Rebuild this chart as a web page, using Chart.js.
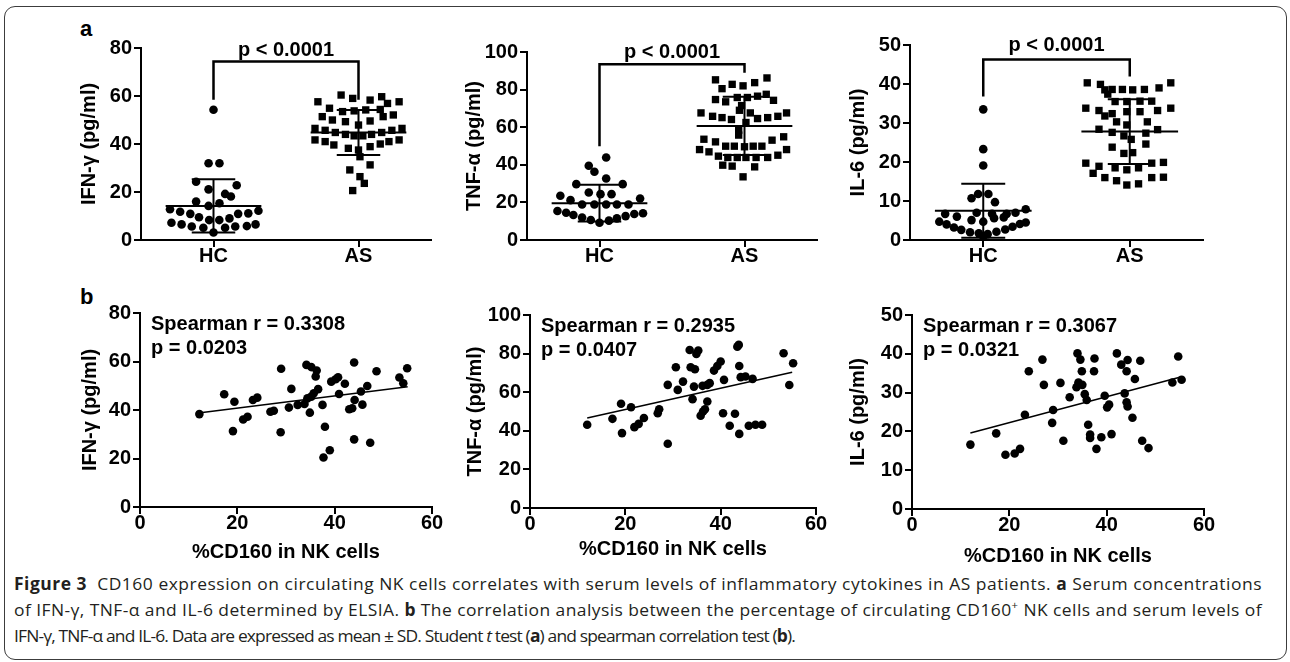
<!DOCTYPE html>
<html>
<head>
<meta charset="utf-8">
<script src="https://cdn.jsdelivr.net/npm/chart.js@4.4.1/dist/chart.umd.min.js"></script>
<style>
  body { margin:0; background:#fff; width:1290px; height:662px; position:relative; overflow:hidden;
         font-family:'Liberation Sans', Arial, sans-serif; }
  #frame { position:absolute; left:4px; top:6px; width:1283px; height:654px; box-sizing:border-box;
           border:1.5px solid #3c3c3c; border-radius:11px; }
  canvas { position:absolute; }
  .lab { position:absolute; left:80px; font:bold 22px/22px 'Liberation Sans', Arial, sans-serif; color:#000; }
  .cap { position:absolute; left:14px; white-space:nowrap; transform-origin:0 50%;
         font:17px/20px 'Open Sans', 'Noto Sans', sans-serif; color:#231f20; }
  .cap b { font-weight:700; }
</style>
</head>
<body>
<div id="frame"></div>
<div class="lab" style="top:18px">a</div>
<div class="lab" style="top:286px">b</div>

<div class="cap" style="top:574px" data-w="1248"><b>Figure 3</b>&nbsp; CD160 expression on circulating NK cells correlates with serum levels of inflammatory cytokines in AS patients. <b>a</b> Serum concentrations</div>
<div class="cap" style="top:600px" data-w="1248">of IFN-γ, TNF-α and IL-6 determined by ELSIA. <b>b</b> The correlation analysis between the percentage of circulating CD160<sup style="font-size:11px;line-height:0">+</sup> NK cells and serum levels of</div>
<div class="cap" style="top:626px" data-w="781">IFN-γ, TNF-α and IL-6. Data are expressed as mean ± SD. Student <i>t</i> test (<b>a</b>) and spearman correlation test (<b>b</b>).</div>

<script>
'use strict';

// groups on the dot plots
const groups = ['HC', 'AS'];

// panel a : [offset from group tick, value]
const ifnHC = [[0,54.3],[-0.034,32.0],[0.041,32.0],[-0.12,24.3],[0.16,22.8],[-0.034,21.1],[0.08,19.2],[0.12,18.1],
  [-0.12,16.0],[0.041,15.3],[-0.034,14.2],[-0.30,12.8],[-0.23,11.8],[0.31,12.2],[0.24,11.1],[0.17,10.9],[-0.16,10.9],
  [-0.10,9.5],[-0.03,8.3],[0.04,8.3],[0.11,9.0],[-0.29,7.2],[-0.22,6.5],[0.29,6.5],[0.23,5.8],[-0.15,5.6],[-0.07,5.1],
  [0.08,5.1],[0.15,5.6],[0,3.1]];
const ifnAS = [[-0.12,60.4],[-0.04,59.0],[-0.28,57.6],[0.08,58.3],[0.16,59.7],[0.20,56.9],[0.28,57.6],
  [-0.20,54.9],[-0.11,53.5],[-0.03,53.8],[0.05,54.2],[0.15,54.4],[0.24,52.1],
  [-0.25,51.4],[-0.18,50.0],[-0.09,49.3],[0,47.9],[0.08,49.6],[0.17,51.4],
  [-0.30,46.5],[-0.23,45.7],[-0.16,44.8],[-0.09,44.0],[-0.03,43.4],[0.03,43.4],[0.09,44.0],[0.16,44.8],[0.23,45.7],[0.30,46.5],
  [-0.30,41.7],[-0.23,41.0],[-0.17,39.6],[-0.07,38.2],[0,37.5],[0.08,38.9],[0.15,40.0],[0.21,41.0],[0.28,41.7],
  [0.01,34.7],[0.08,31.3],[-0.06,29.2],[0.01,26.4],[0.04,23.6],[-0.04,20.6]];

const tnfHC = [[0.046,43.9],[-0.074,39.5],[-0.035,36.3],[0.046,32.7],[-0.16,29.7],[0.16,29.7],[-0.074,25.3],[0.007,24.4],
  [0.083,24.4],[-0.27,23.5],[-0.20,21.2],[0.28,22.1],[-0.12,18.9],[-0.035,18.9],[0.046,18.9],[0.12,18.9],[0.20,18.9],
  [-0.29,15.4],[-0.23,14.5],[-0.18,13.3],[-0.12,12.0],[-0.06,10.6],[0,9.2],[0.065,10.3],[0.12,11.5],[0.18,12.7],
  [0.24,13.8],[0.30,14.2]];
const tnfAS = [[-0.20,85.2],[-0.155,80.5],[-0.085,82.8],[-0.01,82.0],[0.07,83.7],[0.155,86.2],
  [-0.20,74.7],[-0.13,73.5],[-0.05,75.8],[0.02,75.8],[0.09,76.5],[0.15,77.5],[0.20,74.3],
  [-0.02,71.5],[-0.035,69.0],
  [-0.30,67.6],[-0.22,65.8],[-0.155,65.1],[-0.09,64.1],[0.04,67.6],[0.09,64.6],[0.16,65.1],[0.23,65.8],[0.29,67.6],
  [0.01,62.5],[-0.04,58.4],[-0.04,55.8],
  [-0.28,53.6],[-0.20,52.2],[-0.13,49.9],[-0.07,49.9],[0,49.6],[0.06,49.9],[0.12,49.9],[0.19,53.1],[0.27,54.9],
  [-0.31,48.1],[-0.245,46.9],[-0.18,44.6],[-0.115,43.9],[-0.05,43.9],[0.01,43.9],[0.08,43.9],[0.16,43.9],[0.23,45.1],[0.29,48.1],
  [-0.15,39.8],[-0.085,39.3],[0.07,38.9],[-0.01,33.6]];

const il6HC = [[0,33.5],[0,23.3],[0,19.1],[-0.08,10.7],[-0.035,11.8],[0.035,11.8],[0.08,9.7],
  [-0.26,6.7],[-0.18,6.0],[-0.045,7.0],[0.06,6.7],[0.16,6.7],[0.22,7.0],[0.29,7.9],
  [-0.08,5.1],[0,4.7],[0.074,5.6],[0.14,5.8],
  [-0.30,4.7],[-0.25,4.0],[-0.20,3.2],[-0.15,2.6],[-0.09,2.0],[-0.03,1.7],[0.03,1.5],[0.09,2.1],[0.15,2.7],
  [0.20,3.4],[0.25,4.1],[0.29,4.5],[0,0.9]];
const il6AS = [[-0.29,40.3],[-0.20,39.9],[-0.17,38.5],[-0.12,38.6],[-0.05,38.6],[0.02,38.5],[0.10,38.6],[0.20,39.0],[0.28,40.3],
  [-0.15,37.4],[-0.10,35.5],[-0.02,35.5],[0.07,35.6],[0.15,35.6],
  [-0.30,33.8],[-0.21,33.2],[-0.17,31.8],[-0.12,32.4],[-0.02,32.9],[0.07,32.9],[0.19,33.2],[0.28,33.8],
  [-0.09,30.3],[0.12,30.3],[-0.02,29.5],
  [-0.21,28.4],[-0.12,27.6],[-0.04,26.7],[0.11,27.4],[0.19,28.3],[0.01,25.8],
  [-0.12,23.8],[0.11,24.6],[-0.04,22.2],[0.02,22.4],
  [-0.30,19.7],[-0.21,18.9],[-0.25,17.1],[-0.17,16.0],[-0.10,18.5],[-0.02,18.0],[0.06,18.5],[0.15,19.7],[0.23,19.9],
  [-0.09,15.2],[-0.02,14.1],[0.06,14.4],[0.15,16.0],[0.23,16.1]];

// [mean, sd] for HC, AS
const ifnStats = [[14.2, 11.1], [44.8, 9.4]];
const tnfStats = [[19.6, 9.8], [60.7, 15.5]];
const il6Stats = [[7.5, 6.9], [27.8, 8.3]];

// significance bracket: [HC foot, top, AS foot]
const ifnBracket = [58.4, 74.4, 58.4];
const tnfBracket = [49.9, 93.5, 89.0];
const il6Bracket = [36.8, 46.3, 41.9];
const pText = 'p < 0.0001';

// panel b : [%CD160 in NK cells, cytokine]
const cdIfn = [[12.2,38.3],[17.3,46.5],[19.4,43.4],[19.1,31.3],[21.2,36.1],[22.1,37.2],[23.2,44.1],[24.1,45.1],
  [26.8,39.3],[27.5,39.7],[29.0,57.0],[28.9,30.8],[30.6,41.0],[31.1,48.7],[32.4,42.1],[33.8,42.5],[34.2,58.6],
  [35.2,57.7],[36.3,56.3],[36.1,53.8],[34.4,44.8],[35.2,45.5],[35.7,46.9],[36.6,48.6],[34.9,38.9],[37.5,42.1],
  [38.0,33.1],[37.7,20.4],[39.0,23.4],[39.3,51.7],[40.2,52.7],[40.7,53.5],[40.9,46.6],[42.1,50.8],[43.0,40.3],
  [43.6,40.7],[44.0,59.6],[44.1,44.1],[44.0,27.9],[45.4,47.6],[45.7,42.2],[46.7,49.9],[47.3,26.5],[48.6,56.0],
  [53.3,53.4],[54.1,51.0],[54.9,57.2]];
const cdTnf = [[12.0,43.1],[17.3,46.2],[19.1,54.0],[19.3,38.8],[21.2,52.2],[21.9,41.9],[22.8,43.6],[23.9,46.6],
  [26.8,49.1],[27.1,51.2],[28.9,63.8],[28.9,33.3],[30.6,72.9],[31.0,61.2],[32.1,65.5],[33.5,81.9],[33.7,72.9],
  [34.6,71.9],[34.9,79.8],[35.3,81.6],[34.4,62.9],[34.1,56.4],[36.2,63.3],[37.2,63.8],[37.7,64.7],[35.8,47.8],
  [36.3,50.0],[36.7,51.2],[37.2,55.2],[38.6,71.2],[39.3,73.6],[40.0,75.9],[40.7,66.4],[40.5,49.1],[41.9,42.6],
  [43.0,48.8],[43.5,83.6],[43.8,84.5],[43.9,73.6],[44.2,67.8],[45.2,68.1],[43.9,38.4],[46.7,66.9],[45.9,42.6],
  [47.3,43.1],[48.7,43.1],[53.2,80.2],[55.2,75.0],[54.4,63.7]];
const cdIl6 = [[12.0,16.6],[17.3,19.5],[19.2,14.0],[21.1,14.3],[22.2,15.5],[23.2,24.3],[24.0,35.5],[26.8,38.5],
  [27.1,32.0],[29.0,25.5],[28.8,22.2],[30.5,32.5],[31.1,17.6],[32.4,28.8],[34.0,40.1],[34.6,38.5],[33.8,31.4],
  [34.2,32.6],[35.0,32.0],[34.9,35.5],[35.5,29.6],[35.9,28.1],[36.2,21.7],[36.6,19.2],[36.6,18.3],[37.5,38.8],
  [37.4,35.5],[37.9,15.5],[38.9,18.5],[39.6,29.2],[40.1,26.2],[40.5,26.9],[41.0,19.3],[42.1,40.1],[43.0,37.2],
  [43.7,29.8],[44.1,35.5],[44.3,38.4],[44.1,27.5],[44.3,26.4],[45.3,23.5],[45.8,33.5],[46.9,38.2],[47.3,17.6],
  [48.6,15.7],[53.5,32.6],[54.7,39.3],[55.4,33.3]];

// regression line end points
const ifnFit = [[12, 38.8], [55, 49.6]];
const tnfFit = [[12, 46.6], [55, 70.3]];
const il6Fit = [[12, 19.6], [55.4, 34.1]];

const ifnSpearman = ['Spearman r = 0.3308', 'p = 0.0203'];
const tnfSpearman = ['Spearman r = 0.2935', 'p = 0.0407'];
const il6Spearman = ['Spearman r = 0.3067', 'p = 0.0321'];

const xTitle = '%CD160 in NK cells';

// ---------------------------------------------------------------

Chart.defaults.font.family = "'Liberation Sans', Arial, sans-serif";
Chart.defaults.color = '#000';

const boldFont = {size: 20, weight: 'bold', lineHeight: 1.2};
const HALF_LINE = 12;
const PAD_L = 90, PAD_T = 40, PAD_R = 20, AXIS_H = 65;

function line(pts, w) {
  return {data: pts.map(p => ({x: p[0], y: p[1]})), showLine: true, borderColor: '#000',
          borderWidth: w, pointRadius: 0, clip: false, borderJoinStyle: 'miter', tension: 0};
}

function dots(pts, base, style, r) {
  return {data: pts.map(p => ({x: base + p[0], y: p[1]})), pointStyle: style, pointRadius: r,
          backgroundColor: '#000', borderWidth: 0, showLine: false, clip: false};
}

function makePanel(box, datasets, yTitle, yMax, yStep, xOpts, note) {
  const cv = document.createElement('canvas');
  const w = box.R - box.L + PAD_L + PAD_R;
  const h = box.B - box.T + PAD_T + AXIS_H;
  cv.width = w; cv.height = h;
  cv.style.width = w + 'px'; cv.style.height = h + 'px';
  cv.style.left = (box.L - PAD_L) + 'px';
  cv.style.top = (box.T - PAD_T) + 'px';
  document.body.appendChild(cv);

  const axisGrid = {drawOnChartArea: false, drawTicks: true, tickLength: 7, color: '#000', lineWidth: 2};

  new Chart(cv.getContext('2d'), {
    type: 'scatter',
    data: {datasets: datasets},
    options: {
      responsive: false,
      animation: false,
      layout: {padding: {top: PAD_T, right: PAD_R, left: 0, bottom: 0}},
      plugins: {legend: {display: false}, tooltip: {enabled: false}},
      scales: {
        x: Object.assign({
          type: 'linear',
          grid: axisGrid,
          border: {display: true, color: '#000', width: 2},
          afterFit: s => { s.height = AXIS_H; }
        }, xOpts),
        y: {
          type: 'linear', min: 0, max: yMax,
          grid: axisGrid,
          border: {display: true, color: '#000', width: 2},
          ticks: {font: boldFont, padding: 2, stepSize: yStep},
          title: {display: true, text: yTitle, font: boldFont,
                  padding: {top: box.yTitleX - (box.L - PAD_L) - HALF_LINE, bottom: 0}},
          afterFit: s => { s.width = PAD_L; }
        }
      }
    },
    plugins: [{
      id: 'notes',
      afterDatasetsDraw(chart) {
        const ctx = chart.ctx;
        ctx.save();
        ctx.fillStyle = '#000';
        ctx.font = 'bold 20px "Liberation Sans", Arial, sans-serif';
        note(chart, ctx);
        ctx.restore();
      }
    }]
  });
}

function dotPanel(box, hc, as, stats, bracket, yTitle, yMax, yStep) {
  const ds = [dots(hc, 1, 'circle', 4.3), dots(as, 2, 'rect', 5.2)];
  stats.forEach((s, i) => {
    const c = i + 1, m = s[0], sd = s[1];
    ds.push(line([[c - 0.33, m], [c + 0.33, m]], 2));
    ds.push(line([[c, m - sd], [c, m + sd]], 2));
    ds.push(line([[c - 0.15, m + sd], [c + 0.15, m + sd]], 2));
    ds.push(line([[c - 0.15, m - sd], [c + 0.15, m - sd]], 2));
  });
  ds.push(line([[1, bracket[0]], [1, bracket[1]], [2, bracket[1]], [2, bracket[2]]], 2.5));

  const xOpts = {
    min: 0.5, max: 2.5,
    afterBuildTicks: s => { s.ticks = groups.map((g, i) => ({value: i + 1})); },
    ticks: {font: boldFont, padding: -3, maxRotation: 0, minRotation: 0, autoSkip: false,
            callback: v => groups[Math.round(v) - 1]}
  };
  makePanel(box, ds, yTitle, yMax, yStep, xOpts, (chart, ctx) => {
    ctx.textAlign = 'center';
    ctx.textBaseline = 'middle';
    ctx.fillText(pText, chart.scales.x.getPixelForValue(1.5), chart.chartArea.top + box.pY);
  });
}

function scatterPanel(box, pts, fit, texts, yTitle, yMax, yStep) {
  const ds = [
    {data: pts.map(p => ({x: p[0], y: p[1]})), pointStyle: 'circle', pointRadius: 4.3,
     backgroundColor: '#000', borderWidth: 0, clip: false},
    line(fit, 1.5)
  ];
  const xOpts = {
    min: 0, max: 60,
    ticks: {font: boldFont, padding: -3, stepSize: 20, maxRotation: 0, minRotation: 0, autoSkip: false},
    title: {display: true, text: xTitle, font: boldFont,
            padding: {top: 0, bottom: box.B + AXIS_H - box.xTitleY - HALF_LINE}}
  };
  makePanel(box, ds, yTitle, yMax, yStep, xOpts, (chart, ctx) => {
    ctx.textAlign = 'left';
    ctx.textBaseline = 'middle';
    const a = chart.chartArea;
    ctx.fillText(texts[0], a.left + 11, a.top + 11);
    ctx.fillText(texts[1], a.left + 11, a.top + 35);
  });
}

// panel boxes (axis pixel positions on the page)
dotPanel({L: 141, R: 431, T: 48, B: 240, yTitleX: 89, pY: 2}, ifnHC, ifnAS, ifnStats, ifnBracket, 'IFN-γ (pg/ml)', 80, 20);
dotPanel({L: 527, R: 817, T: 52, B: 240, yTitleX: 474, pY: 0}, tnfHC, tnfAS, tnfStats, tnfBracket, 'TNF-α (pg/ml)', 100, 20);
dotPanel({L: 910, R: 1203, T: 45, B: 240, yTitleX: 858, pY: 0}, il6HC, il6AS, il6Stats, il6Bracket, 'IL-6 (pg/ml)', 50, 10);

scatterPanel({L: 140, R: 432, T: 313, B: 507, yTitleX: 90, xTitleY: 552}, cdIfn, ifnFit, ifnSpearman, 'IFN-γ (pg/ml)', 80, 20);
scatterPanel({L: 530, R: 816, T: 315, B: 508, yTitleX: 475, xTitleY: 549}, cdTnf, tnfFit, tnfSpearman, 'TNF-α (pg/ml)', 100, 20);
scatterPanel({L: 912, R: 1204, T: 315, B: 509, yTitleX: 858, xTitleY: 556}, cdIl6, il6Fit, il6Spearman, 'IL-6 (pg/ml)', 50, 10);

// caption lines: one common horizontal squeeze, letter spacing takes up the rest
const caps = Array.from(document.querySelectorAll('.cap'));
const natural = caps.map(el => el.getBoundingClientRect().width);
const squeeze = Math.exp(caps.reduce((s, el, i) => s + Math.log(Number(el.dataset.w) / natural[i]), 0) / caps.length);
caps.forEach((el, i) => {
  const extra = Number(el.dataset.w) / squeeze - natural[i];
  el.style.letterSpacing = (extra / el.textContent.length) + 'px';
  const w = el.getBoundingClientRect().width;
  el.style.transform = 'scaleX(' + (Number(el.dataset.w) / w) + ')';
});
</script>
</body>
</html>
